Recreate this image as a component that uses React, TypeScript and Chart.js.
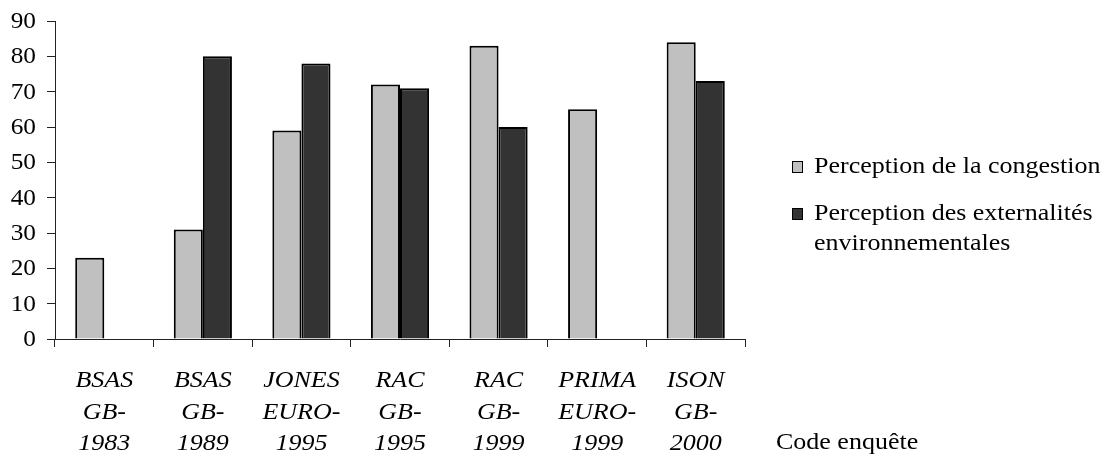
import React, { useEffect, useRef } from "react";
import { Chart, registerables } from "chart.js";

Chart.register(...registerables);

const FONT = "'Liberation Serif', 'Times New Roman', Times, serif";
const SX = 1.13;

const categories: string[][] = [
  ["BSAS", "GB-", "1983"],
  ["BSAS", "GB-", "1989"],
  ["JONES", "EURO-", "1995"],
  ["RAC", "GB-", "1995"],
  ["RAC", "GB-", "1999"],
  ["PRIMA", "EURO-", "1999"],
  ["ISON", "GB-", "2000"],
];
const congestion: (number | null)[] = [23, 31, 59, 72, 83, 65, 84];
const environnement: (number | null)[] = [null, 80, 78, 71, 60, null, 73];
const yTicks: number[] = [0, 10, 20, 30, 40, 50, 60, 70, 80, 90];
const legendLabels: string[][] = [
  ["Perception de la congestion"],
  ["Perception des externalités", "environnementales"],
];
const axisTitle = "Code enquête";

function stretchText(ctx: CanvasRenderingContext2D, text: string, x: number, y: number, sx: number) {
  ctx.save();
  ctx.translate(x, y);
  ctx.scale(sx, 1);
  ctx.fillText(text, 0, 0);
  ctx.restore();
}

const textPlugin = {
  id: "customText",
  afterDraw(chart: any) {
    const ctx: CanvasRenderingContext2D = chart.ctx;
    const xs = chart.scales.x;
    const ys = chart.scales.y;
    const area = chart.chartArea;
    ctx.save();
    ctx.fillStyle = "#000";

    // y tick labels
    ctx.font = `23px ${FONT}`;
    ctx.textAlign = "right";
    ctx.textBaseline = "middle";
    yTicks.forEach((v) => stretchText(ctx, String(v), 36, ys.getPixelForValue(v) + 1, 1.1));

    // x category labels
    ctx.font = `italic 23px ${FONT}`;
    ctx.textAlign = "center";
    ctx.textBaseline = "alphabetic";
    categories.forEach((lines, i) => {
      const cx = xs.getPixelForValue(i);
      lines.forEach((ln, j) => stretchText(ctx, ln, cx, area.bottom + 48 + j * 31.5, SX));
    });

    // axis title
    ctx.font = `23px ${FONT}`;
    ctx.textAlign = "left";
    stretchText(ctx, axisTitle, 776, area.bottom + 110, SX);

    // legend
    const ds = chart.data.datasets;
    const tops = [161, 208];
    ctx.textBaseline = "middle";
    legendLabels.forEach((lines, i) => {
      const top = tops[i];
      ctx.fillStyle = ds[i].backgroundColor;
      ctx.fillRect(792, top, 11, 12);
      ctx.strokeStyle = "#000";
      ctx.lineWidth = 1;
      ctx.strokeRect(792.5, top + 0.5, 10, 11);
      ctx.fillStyle = "#000";
      lines.forEach((ln, j) => stretchText(ctx, ln, 814, top + 6 + j * 30, SX));
    });
    ctx.restore();
  },
};

export default function App() {
  const ref = useRef<HTMLCanvasElement | null>(null);
  useEffect(() => {
    if (!ref.current) return;
    const chart = new Chart(ref.current, {
      type: "bar",
      data: {
        labels: categories.map((c) => c.join(" ")),
        datasets: [
          {
            label: legendLabels[0].join(" "),
            data: congestion,
            backgroundColor: "#C0C0C0",
            borderColor: "#000000",
            borderWidth: 2,
            categoryPercentage: 0.59,
            barPercentage: 1,
          },
          {
            label: legendLabels[1].join(" "),
            data: environnement,
            backgroundColor: "#333333",
            borderColor: "#000000",
            borderWidth: 2,
            categoryPercentage: 0.59,
            barPercentage: 1,
          },
        ],
      },
      options: {
        responsive: false,
        animation: false,
        layout: { padding: { left: 47, right: 366, top: 21, bottom: 110 } },
        plugins: { legend: { display: false }, tooltip: { enabled: false } },
        scales: {
          x: {
            offset: true,
            grid: { display: true, drawOnChartArea: false, drawTicks: true, tickLength: 8, color: "#222", offset: true },
            border: { display: true, color: "#222", width: 1 },
            ticks: { display: false },
          },
          y: {
            min: 0,
            max: 90,
            ticks: { display: false, stepSize: 10 },
            grid: { display: true, drawOnChartArea: false, drawTicks: true, tickLength: 8, color: "#222" },
            border: { display: true, color: "#222", width: 1 },
          },
        },
      },
      plugins: [textPlugin],
    });
    return () => chart.destroy();
  }, []);
  return (
    <div style={{ position: "absolute", left: 0, top: 0, width: 1111, height: 457, background: "#fff" }}>
      <canvas ref={ref} width={1111} height={457} style={{ display: "block" }} />
    </div>
  );
}
